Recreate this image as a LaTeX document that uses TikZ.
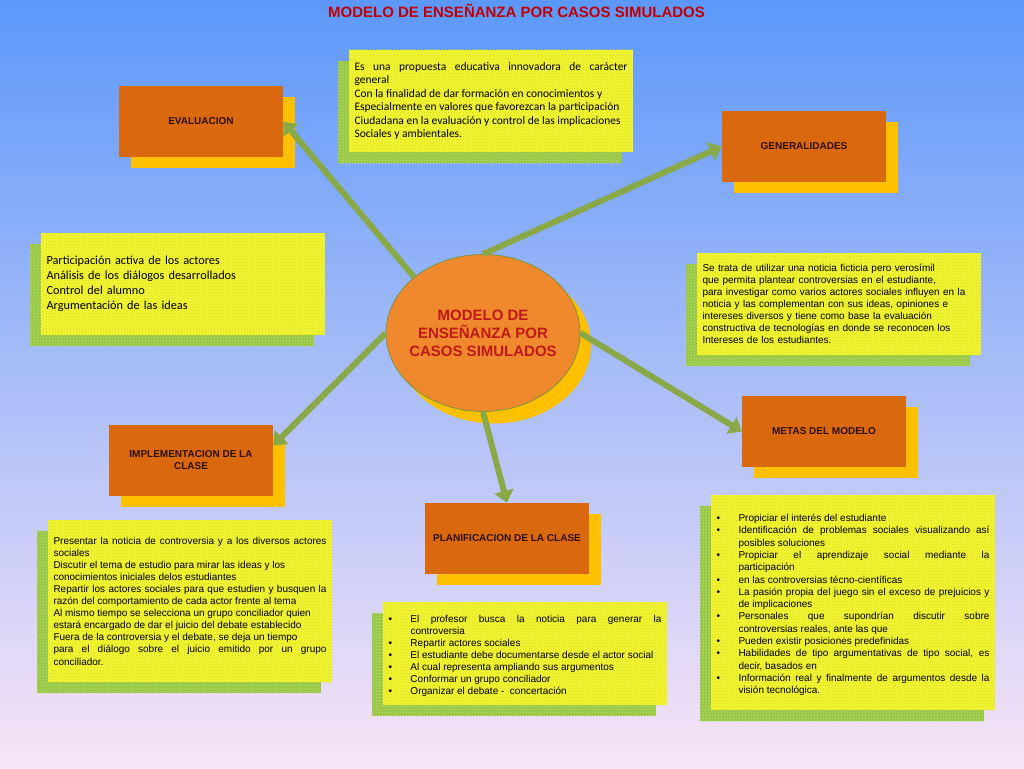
\documentclass[tikz,border=0pt]{standalone}
\usepackage{fontspec}
\setsansfont{Liberation Sans}
\newfontfamily\calibri{Carlito}
\usepackage{tikz}
\usetikzlibrary{shapes.geometric}
\usetikzlibrary{arrows.meta}
\usetikzlibrary{patterns}
\usetikzlibrary{shadows}

\definecolor{bgtop}{RGB}{92,152,250}
\definecolor{bgmid}{RGB}{165,202,245}
\definecolor{bgbot}{RGB}{248,228,246}
\definecolor{boxorange}{RGB}{217,104,15}
\definecolor{shadeyel}{RGB}{255,192,0}
\definecolor{ovalorange}{RGB}{240,136,45}
\definecolor{ovalline}{RGB}{120,150,60}
\definecolor{titlered}{RGB}{192,0,0}
\definecolor{ovaltext}{RGB}{190,25,20}
\definecolor{darktext}{RGB}{45,15,5}
\definecolor{txtyel}{RGB}{242,245,48}
\definecolor{dotyel}{RGB}{212,216,40}
\definecolor{shgreen}{RGB}{150,198,70}
\definecolor{dotgreen}{RGB}{205,232,120}
\definecolor{arrgreen}{RGB}{137,168,72}

\hyphenpenalty=10000
\exhyphenpenalty=10000
\tolerance=9999
\newcommand{\bul}{\par\noindent\hangindent=22pt\hangafter=1\makebox[22pt][l]{\textbullet}}

\begin{document}
\begin{tikzpicture}[x=1pt, y=-1pt,
        topicbox/.style={fill=boxorange, minimum width=164pt, minimum height=71pt, inner sep=2pt,
            align=center, text=darktext, font=\sffamily\bfseries\fontsize{10}{12}\selectfont,
            general shadow={fill=shadeyel, draw=none, shadow xshift=11.5pt, shadow yshift=-11pt}},
        notebox/.style={fill=txtyel, postaction={pattern=crosshatch dots, pattern color=dotyel},
            minimum width=284pt, text width=273pt, inner xsep=5.5pt, inner ysep=0pt,
            general shadow={fill=shgreen, shadow xshift=-11.5pt, shadow yshift=-11pt},
            general shadow={pattern=crosshatch dots, pattern color=dotgreen, shadow xshift=-11.5pt, shadow yshift=-11pt}},
        arialtext/.style={font=\sffamily\fontsize{10}{#1}\selectfont},
        arr/.style={draw=arrgreen, line width=6pt, -{Triangle[length=12pt,width=19pt]}}]
    \shade[top color=bgtop, middle color=bgmid, bottom color=bgbot] (0,0) rectangle (1024,768);
    \useasboundingbox (0,0) rectangle (1024,768);

    \node[notebox, minimum height=102pt, align=justify, font=\calibri\fontsize{11.5}{13.5}\selectfont] (desctxt) at (491,101)
        {Es una propuesta educativa innovadora de carácter\linebreak general\\
         Con la finalidad de dar formación en conocimientos y\\
         Especialmente en valores que favorezcan la participación\\
         Ciudadana en la evaluación y control de las implicaciones\\
         Sociales y ambientales.};
    \node[notebox, minimum height=102pt, align=left, font=\calibri\fontsize{12.3}{15}\selectfont] (evaltxt) at (183,284)
        {Participación activa de los actores\\
         Análisis de los diálogos desarrollados\\
         Control del alumno\\
         Argumentación de las ideas};
    \node[notebox, minimum height=102pt, align=left, arialtext=12] (gentxt) at (839,304)
        {Se trata de utilizar una noticia ficticia pero verosímil\\
         que permita plantear controversias en el estudiante,\\
         para investigar como varios actores sociales influyen en la\\
         noticia y las complementan con sus ideas, opiniones e\\
         intereses diversos y tiene como base la evaluación\\
         constructiva de tecnologías en donde se reconocen los\\
         Intereses de los estudiantes.};
    \node[notebox, minimum height=162pt, align=justify, arialtext=12.1] (impltxt) at (190,601)
        {Presentar la noticia de controversia y a los diversos actores\linebreak sociales\\
         Discutir el tema de estudio para mirar las ideas y los\\
         conocimientos iniciales delos estudiantes\\
         Repartir los actores sociales para que estudien y busquen la\linebreak razón del comportamiento de cada actor frente al tema\\
         Al mismo tiempo se selecciona un grupo conciliador quien\\
         estará encargado de dar el juicio del debate establecido\\
         Fuera de la controversia y el debate, se deja un tiempo\\
         \ para el diálogo sobre el juicio emitido por un grupo\linebreak conciliador.};
    \node[notebox, minimum height=103pt, align=justify, arialtext=12.1] (plantxt) at (525,653.5)
        {\bul El profesor busca la noticia para generar la\linebreak controversia
         \bul Repartir actores sociales
         \bul El estudiante debe documentarse desde el actor social
         \bul Al cual representa ampliando sus argumentos
         \bul Conformar un grupo conciliador
         \bul Organizar el debate - \ concertación\par};
    \node[notebox, minimum height=215pt, align=justify, arialtext=12.3] (metastxt) at (853,602.5)
        {\bul Propiciar el interés del estudiante
         \bul Identificación de problemas sociales visualizando así\linebreak posibles soluciones
         \bul Propiciar el aprendizaje social mediante la\linebreak participación
         \bul en las controversias técno-científicas
         \bul La pasión propia del juego sin el exceso de prejuicios y\linebreak de implicaciones
         \bul Personales que supondrían discutir sobre\linebreak controversias reales, ante las que
         \bul Pueden existir posiciones predefinidas
         \bul Habilidades de tipo argumentativas de tipo social, es\linebreak decir, basados en
         \bul Información real y finalmente de argumentos desde la\linebreak visión tecnológica.\par};

    \foreach \nm/\x/\y/\txt in {evalbox/201/121.5/EVALUACION, genbox/804/146.5/GENERALIDADES,
            implbox/191/460/{IMPLEMENTACION DE LA\\CLASE}, metasbox/824/431.5/METAS DEL MODELO,
            planbox/507/538.5/PLANIFICACION DE LA CLASE}
        \node[topicbox] (\nm) at (\x, \y) {\txt};

    \node[ellipse, fill=ovalorange, draw=ovalline, line width=0.8pt, minimum width=194pt, minimum height=157pt,
        inner xsep=-6pt, inner ysep=26pt, align=center, text=ovaltext, font=\sffamily\bfseries\fontsize{15}{18}\selectfont,
        general shadow={fill=shadeyel, draw=none, shadow xshift=11pt, shadow yshift=-12pt}] (modelo) at (483,333)
        {MODELO DE\\ENSEÑANZA POR\\CASOS SIMULADOS};

    \foreach \a/\b in {north west/evalbox.east, north/genbox.west, west/implbox.10,
            east/metasbox.west, south/planbox.north}
        \draw[arr] (modelo.\a) -- (\b);

    \node[anchor=base, text=titlered, font=\sffamily\bfseries\fontsize{15}{18}\selectfont] (titulo) at (516.5,18)
        {MODELO DE ENSEÑANZA POR CASOS SIMULADOS};
\end{tikzpicture}
\end{document}
